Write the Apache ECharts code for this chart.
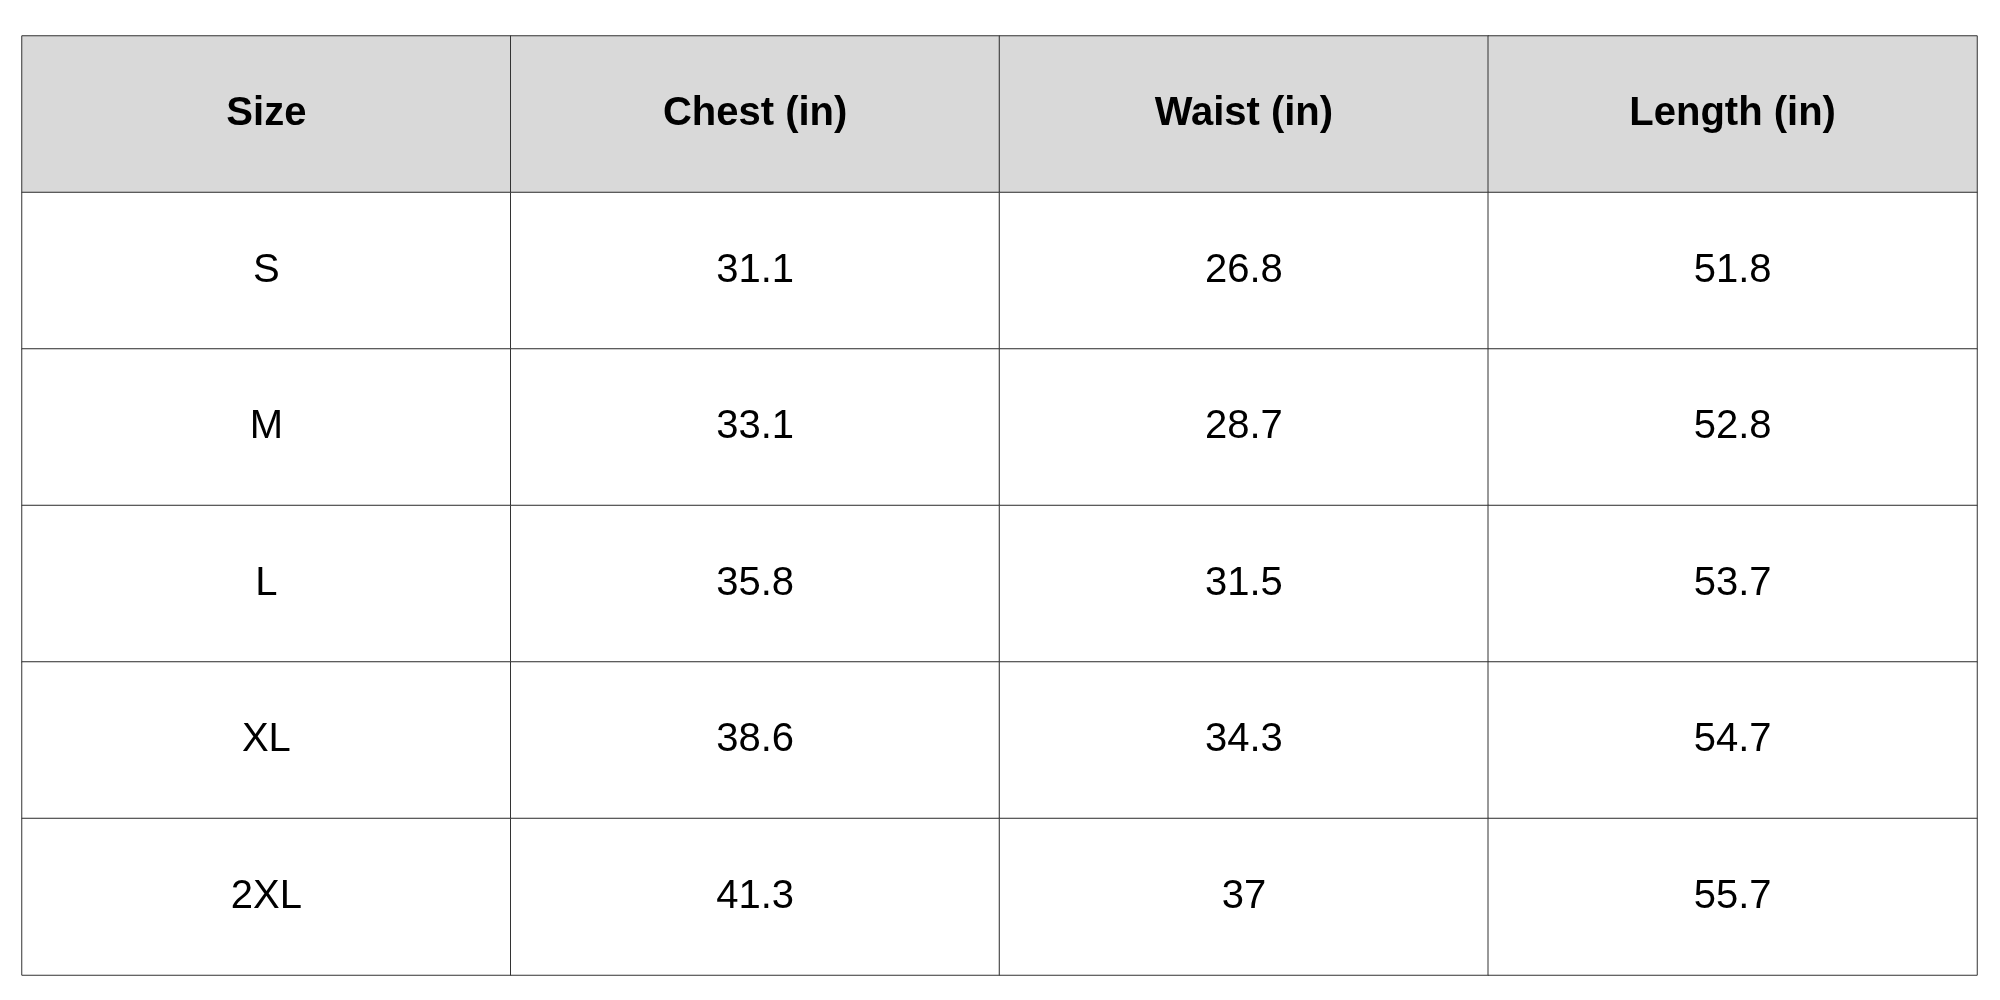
<!DOCTYPE html>
<html>
<head>
<meta charset="utf-8">
<script src="https://cdn.jsdelivr.net/npm/echarts@6/dist/echarts.min.js"></script>
<style>html,body{margin:0;padding:0;background:#fff}#main{width:2000px;height:1000px}</style>
</head>
<body>
<div id="main"></div>
<script>
var headers = ['Size', 'Chest (in)', 'Waist (in)', 'Length (in)'];
var sizes = ['S', 'M', 'L', 'XL', '2XL'];
var chest = [31.1, 33.1, 35.8, 38.6, 41.3];
var waist = [26.8, 28.7, 31.5, 34.3, 37];
var length = [51.8, 52.8, 53.7, 54.7, 55.7];

var rows = [headers];
for (var i = 0; i < sizes.length; i++) {
	rows.push([sizes[i], chest[i], waist[i], length[i]]);
}
var rowIdx = rows.map(function (r, i) { return 'r' + i; });

var cells = [];
for (var r = 0; r < rows.length; r++) {
	for (var c = 0; c < headers.length; c++) {
		cells.push({
			value: [c, r, 0],
			itemStyle: { color: r == 0 ? '#d9d9d9' : '#ffffff' },
			label: {
				fontWeight: r == 0 ? 'bold' : 'normal'
			}
		});
	}
}

var myChart = echarts.init(document.getElementById('main'));
var option = {
	animation: false,
	grid: { left: 22, right: 23, top: 36, bottom: 25 },
	xAxis: { type: 'category', data: headers, show: false },
	yAxis: { type: 'category', data: rowIdx, inverse: true, show: false },
	series: [{
		type: 'heatmap',
		data: cells,
		itemStyle: { borderColor: '#333', borderWidth: 1 },
		label: {
			show: true,
			color: '#000',
			fontSize: 40,
			fontFamily: 'Liberation Sans',
			formatter: function (p) { return String(rows[p.value[1]][p.value[0]]); }
		},
		emphasis: { disabled: true }
	}]
};
myChart.setOption(option);
</script>
</body>
</html>
